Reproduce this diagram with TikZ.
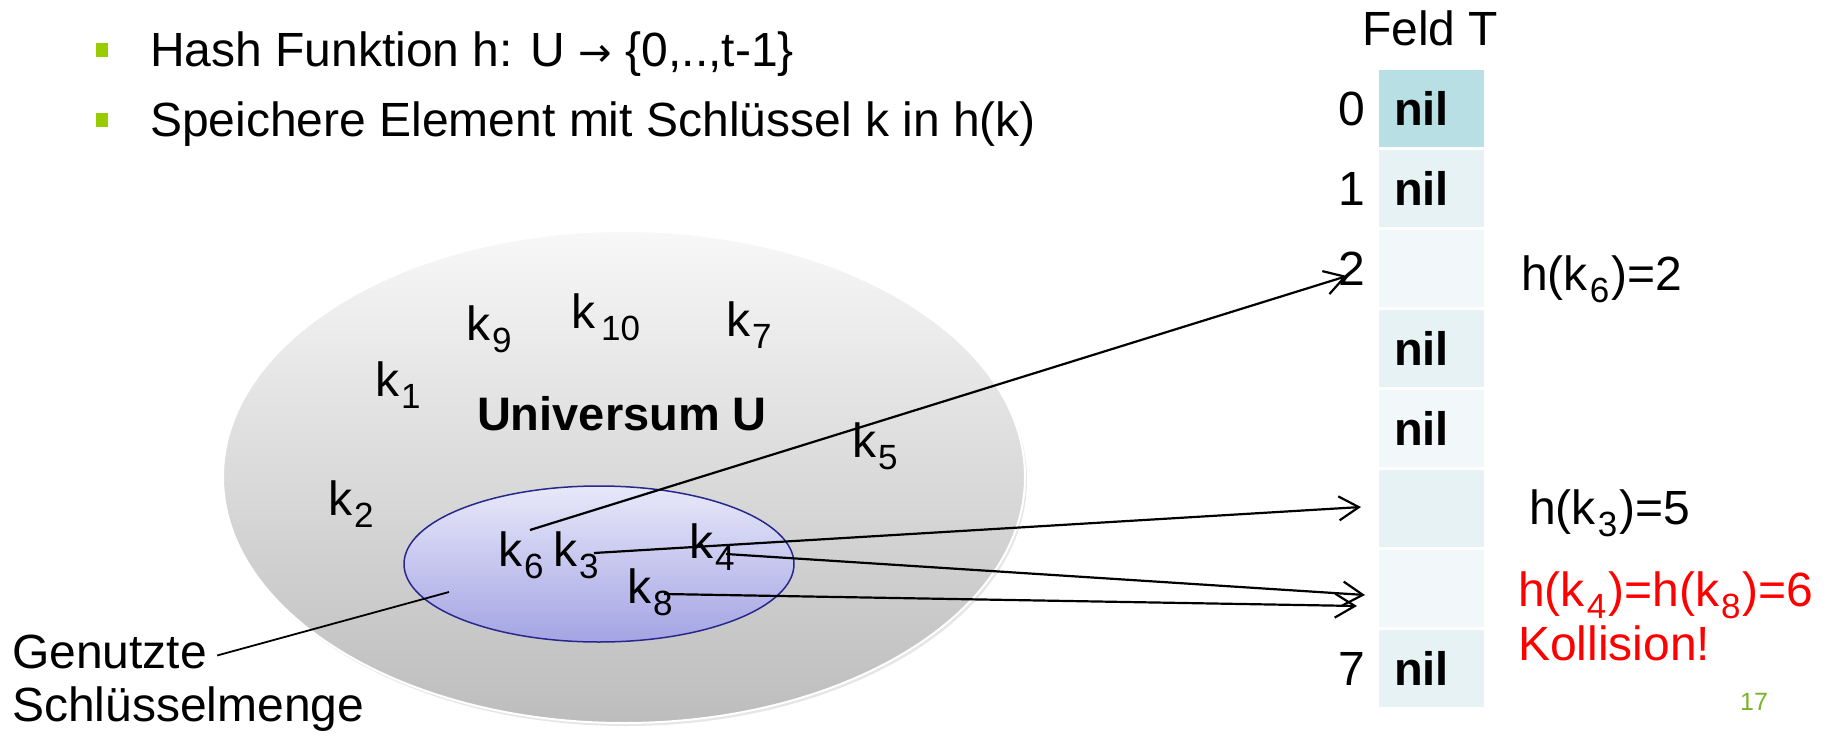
\documentclass[tikz,border=0pt]{standalone}
\usepackage{fontspec}
\setmainfont{Liberation Sans}
\newfontfamily\arrowfont{DejaVu Sans}
\usetikzlibrary{arrows.meta,positioning,shapes.geometric,shadows}

\definecolor{bulletgreen}{RGB}{153,204,0}
\definecolor{cellhead}{RGB}{184,223,227}
\definecolor{cellodd}{RGB}{230,242,244}
\definecolor{celleven}{RGB}{242,248,250}
\definecolor{setline}{RGB}{40,40,140}
\definecolor{settop}{RGB}{232,232,250}
\definecolor{setbottom}{RGB}{164,164,228}
\definecolor{pagegreen}{RGB}{120,180,40}

% subscript as the slide sets it: smaller, lowered, a little apart
\newcommand{\subidx}[1]{\kern2pt\raisebox{-12pt}{\fontsize{35}{35}\selectfont#1}\kern2pt}
\newcommand{\keyk}[1]{k\subidx{#1}}

\begin{document}
\begin{tikzpicture}[x=1pt,y=-1pt,
  txt/.style={font=\fontsize{48}{52}\selectfont,inner sep=0pt,anchor=base west},
  bullet/.style={fill=bulletgreen,minimum width=12pt,minimum height=14pt,inner sep=0pt},
  cell/.style={anchor=north west,minimum width=105pt,minimum height=77pt,
               inner xsep=15pt,inner ysep=0pt,text width=75pt,align=left,
               font=\fontsize{47}{52}\bfseries\selectfont},
  flow/.style={-{Straight Barb[length=20pt,width=24pt]},line width=2.2pt},
  lead/.style={line width=1.8pt}
]
\useasboundingbox (0,0) rectangle (1837,736);

\node[bullet] (b1) at (102,50) {};
\node[bullet] (b2) at (102,120) {};
\node[txt] (hash) at (150,66) {Hash Funktion h: U {\arrowfont\fontsize{40}{44}\selectfont →} \{0,..,t-1\}};
\node[txt] (store) at (150,136) {Speichere Element mit Schlüssel k in h(k)};

% the two sets
\node[ellipse,minimum width=802pt,minimum height=492pt,inner sep=0pt,
      top color=white!97!black,bottom color=white!74!black,draw=white,line width=2pt,
      drop shadow={opacity=0.2,shadow xshift=2pt,shadow yshift=-3pt}] (universe) at (624,477) {};
\node[ellipse,minimum width=390pt,minimum height=156pt,inner sep=0pt,
      top color=settop,bottom color=setbottom,draw=setline,line width=1.5pt] (used) at (599,564) {};

\node[txt,anchor=base,font=\fontsize{47}{52}\bfseries\selectfont] (uname) at (622,430) {Universum U};
\node[txt] (k9) at (466,340) {\keyk{9}};
\node[txt] (k10) at (571,328) {k\kern4pt\subidx{10}};
\node[txt] (k7) at (726,336) {\keyk{7}};
\node[txt] (k1) at (375,396) {\keyk{1}};
\node[txt] (k5) at (852,457) {\keyk{5}};
\node[txt] (k2) at (328,515) {\keyk{2}};
\node[txt] (k6) at (498,566) {\keyk{6}};
\node[txt] (k3) at (553,566) {\keyk{3}};
\node[txt] (k4) at (689,558) {\keyk{4}};
\node[txt] (k8) at (627,603) {\keyk{8}};

\node[txt] (gen) at (12,668) {Genutzte};
\node[txt] (menge) at (12,721) {Schlüsselmenge};

% table T
\node[txt] (feld) at (1362,45) {Feld T};
\foreach \i/\c/\t in {0/cellhead/nil,1/cellodd/nil,2/celleven/{},3/cellodd/nil,
                      4/celleven/nil,5/cellodd/{},6/celleven/{},7/cellodd/nil}
  \node[cell,fill=\c] (r\i) at (1379,{70+80*\i}) {\t};
\foreach \i in {0,1,2,7}
  \node[txt,anchor=base east] (n\i) at (1365,{125+80*\i}) {\i};

\node[txt] (hk6) at (1521,290) {h(k\subidx{6})=2};
\node[txt] (hk3) at (1529,524) {h(k\subidx{3})=5};
\node[txt,text=red] (hk48) at (1518,606) {h(k\subidx{4})=h(k\subidx{8})=6};
\node[txt,text=red] (koll) at (1518,660) {Kollision!};
\node[txt,font=\fontsize{25}{28}\selectfont,text=pagegreen] (page) at (1740,710) {17};

% hash arrows
\coordinate (s6) at (530,530);
\coordinate (s3) at (594,553);
\coordinate (s4) at (726,554);
\coordinate (s8) at (664,594);
\coordinate (t2) at (1347,276);
\coordinate (t5) at (1361,507);
\coordinate (t6a) at (1365,595);
\coordinate (t6b) at (1357,606);
\coordinate (usedpt) at (449,592);
\draw[flow] (s6) -- (t2);
\draw[flow] (s3) -- (t5);
\draw[flow] (s4) -- (t6a);
\draw[flow] (s8) -- (t6b);
\draw[lead] ([xshift=10pt,yshift=-4pt]gen.east) -- (usedpt);
\end{tikzpicture}
\end{document}
